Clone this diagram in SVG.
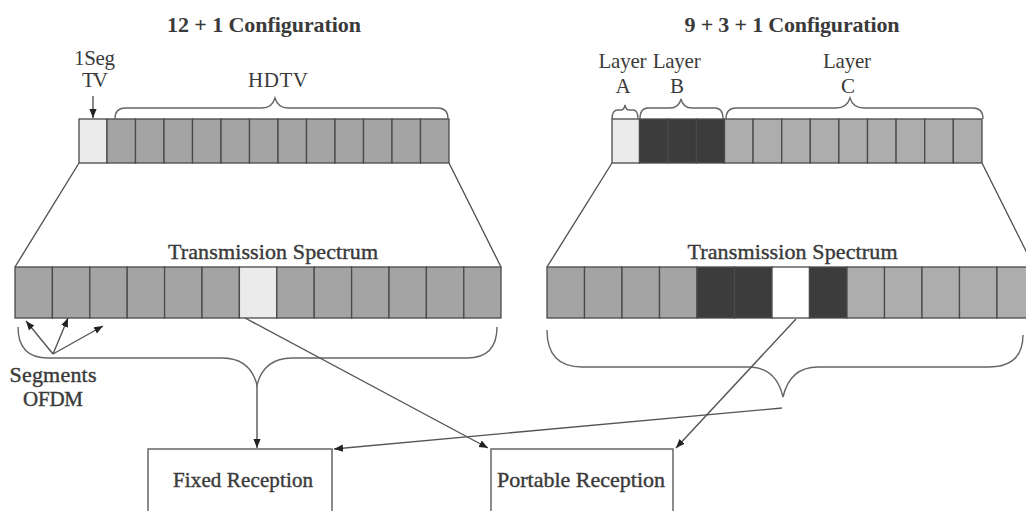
<svg xmlns="http://www.w3.org/2000/svg" width="1026" height="511" viewBox="0 0 1026 511">
<defs>
<style>
.t{font-family:"Liberation Serif","Times New Roman",serif;font-size:21px;fill:#3a3a3a;text-anchor:middle}
.b{font-weight:bold;font-size:22px}
.m{stroke:#3a3a3a;stroke-width:0.4}
.s22{font-size:22px}
.c{stroke:#4a4a4a;stroke-width:1.3}
.g{fill:#a4a4a4}
.g2{fill:#adadad}
.d{fill:#3c3c3c}
.l{fill:#ebebeb}
.w{fill:#ffffff}
.ln{fill:none;stroke:#555;stroke-width:1.4}
.br{fill:none;stroke:#666;stroke-width:1.4}
.bx{fill:#fff;stroke:#666;stroke-width:1.5}
</style>
<marker id="ah" viewBox="0 0 10 10" refX="10" refY="5" markerWidth="9" markerHeight="9" markerUnits="userSpaceOnUse" orient="auto">
<path d="M0,1 L10,5 L0,9 Z" fill="#222"/>
</marker>
</defs>
<rect width="1026" height="511" fill="#fff"/>

<g id="title-12-1"><text class="t b" x="264" y="32" textLength="194">12 + 1 Configuration</text></g>
<g id="title-9-3-1"><text class="t b" x="792" y="32" textLength="215">9 + 3 + 1 Configuration</text></g>

<g id="config-12-1">
<rect class="c l" x="79" y="119" width="28" height="44"/>
<rect class="c g" x="107" y="119" width="28.5" height="44"/>
<rect class="c g" x="135.5" y="119" width="28.5" height="44"/>
<rect class="c g" x="164" y="119" width="28.5" height="44"/>
<rect class="c g" x="192.5" y="119" width="28.5" height="44"/>
<rect class="c g" x="221" y="119" width="28.5" height="44"/>
<rect class="c g" x="249.5" y="119" width="28.5" height="44"/>
<rect class="c g" x="278" y="119" width="28.5" height="44"/>
<rect class="c g" x="306.5" y="119" width="28.5" height="44"/>
<rect class="c g" x="335" y="119" width="28.5" height="44"/>
<rect class="c g" x="363.5" y="119" width="28.5" height="44"/>
<rect class="c g" x="392" y="119" width="28.5" height="44"/>
<rect class="c g" x="420.5" y="119" width="28.5" height="44"/>
</g>

<g id="label-1seg">
<text class="t" x="94.5" y="65" textLength="41">1Seg</text>
<text class="t" x="95" y="87" textLength="26">TV</text>
</g>
<g id="label-hdtv"><text class="t" x="278" y="87" textLength="60">HDTV</text></g>

<g id="config-9-3-1">
<rect class="c l" x="612" y="119" width="27.5" height="44"/>
<rect class="c d" x="639.5" y="119" width="28.5" height="44"/>
<rect class="c d" x="668" y="119" width="28.5" height="44"/>
<rect class="c d" x="696.5" y="119" width="28" height="44"/>
<rect class="c g2" x="724.5" y="119" width="28.6" height="44"/>
<rect class="c g2" x="753.1" y="119" width="28.6" height="44"/>
<rect class="c g2" x="781.7" y="119" width="28.6" height="44"/>
<rect class="c g2" x="810.3" y="119" width="28.6" height="44"/>
<rect class="c g2" x="838.9" y="119" width="28.6" height="44"/>
<rect class="c g2" x="867.5" y="119" width="28.6" height="44"/>
<rect class="c g2" x="896.1" y="119" width="28.6" height="44"/>
<rect class="c g2" x="924.7" y="119" width="28.6" height="44"/>
<rect class="c g2" x="953.3" y="119" width="28.7" height="44"/>
</g>

<g id="label-layer-a">
<text class="t" x="622.5" y="68" textLength="48">Layer</text>
<text class="t" x="623" y="93">A</text>
</g>
<g id="label-layer-b">
<text class="t" x="676.7" y="68" textLength="48">Layer</text>
<text class="t" x="677" y="93">B</text>
</g>
<g id="label-layer-c">
<text class="t" x="847" y="68" textLength="48">Layer</text>
<text class="t" x="848" y="93">C</text>
</g>

<g id="spectrum-left">
<text class="t m s22" x="273" y="259" textLength="210">Transmission Spectrum</text>
<rect class="c g" x="15" y="267" width="37.4" height="51"/>
<rect class="c g" x="52.4" y="267" width="37.4" height="51"/>
<rect class="c g" x="89.8" y="267" width="37.4" height="51"/>
<rect class="c g" x="127.2" y="267" width="37.4" height="51"/>
<rect class="c g" x="164.6" y="267" width="37.4" height="51"/>
<rect class="c g" x="202" y="267" width="37.4" height="51"/>
<rect class="c l" x="239.4" y="267" width="37.4" height="51"/>
<rect class="c g" x="276.8" y="267" width="37.4" height="51"/>
<rect class="c g" x="314.2" y="267" width="37.4" height="51"/>
<rect class="c g" x="351.6" y="267" width="37.4" height="51"/>
<rect class="c g" x="389" y="267" width="37.4" height="51"/>
<rect class="c g" x="426.4" y="267" width="37.4" height="51"/>
<rect class="c g" x="463.8" y="267" width="37.2" height="51"/>
</g>

<g id="spectrum-right">
<text class="t m s22" x="792.5" y="259" textLength="210">Transmission Spectrum</text>
<rect class="c g" x="547" y="267" width="37.5" height="51"/>
<rect class="c g" x="584.5" y="267" width="37.5" height="51"/>
<rect class="c g" x="622" y="267" width="37.5" height="51"/>
<rect class="c g" x="659.5" y="267" width="37.5" height="51"/>
<rect class="c d" x="697" y="267" width="37.5" height="51"/>
<rect class="c d" x="734.5" y="267" width="37.5" height="51"/>
<rect class="c w" x="772" y="267" width="37.5" height="51"/>
<rect class="c d" x="809.5" y="267" width="37.5" height="51"/>
<rect class="c g2" x="847" y="267" width="37.5" height="51"/>
<rect class="c g2" x="884.5" y="267" width="37.5" height="51"/>
<rect class="c g2" x="922" y="267" width="37.5" height="51"/>
<rect class="c g2" x="959.5" y="267" width="37.5" height="51"/>
<rect class="c g2" x="997" y="267" width="37.5" height="51"/>
</g>

<g id="label-segments">
<text class="t m s22" x="53" y="382" textLength="87">Segments</text>
<text class="t m" x="53" y="406" textLength="60">OFDM</text>
</g>

<g id="fixed-reception">
<rect class="bx" x="148" y="449" width="184" height="80"/>
<text class="t m" x="243" y="487" textLength="140">Fixed Reception</text>
</g>
<g id="portable-reception">
<rect class="bx" x="491" y="449" width="182" height="80"/>
<text class="t m s22" x="581" y="487" textLength="168">Portable Reception</text>
</g>

<g id="connectors">
<path class="ln" d="M79,163 L15,267 M449,163 L501,267"/>
<path class="ln" d="M612,163 L547,267 M982,163 L1034,267"/>
<path class="br" d="M115,119 Q115,108 125,108 L262,108 Q272,108 275,98 Q278,108 288,108 L438,108 Q448,108 448,119"/>
<path class="br" d="M612,119 Q612,110 618,110 L621,110 Q624,110 625,105 Q626,110 629,110 L633,110 Q638,110 638,119"/>
<path class="br" d="M640,119 Q640,108 648,108 L670,108 Q679,108 681,99 Q683,108 692,108 L715,108 Q723,108 723,119"/>
<path class="br" d="M726,119 Q726,108 736,108 L836,108 Q847,108 850,98 Q853,108 864,108 L973,108 Q983,108 983,119"/>
<path class="br" d="M18,327 Q18,358 48,358 L222,358 Q250,358 257,385 Q264,358 292,358 L467,358 Q497,358 497,327"/>
<path class="br" d="M547,330 Q547,367 582,367 L748,367 Q776,367 783,397 Q790,367 818,367 L988,367 Q1023,367 1023,335"/>
<path class="ln" d="M53,354 L26,321" marker-end="url(#ah)"/>
<path class="ln" d="M53,354 L68,318" marker-end="url(#ah)"/>
<path class="ln" d="M53,354 L103,326" marker-end="url(#ah)"/>
<path class="ln" d="M93,96 L93,118" marker-end="url(#ah)"/>
<path class="ln" d="M257,385 L257,448" marker-end="url(#ah)"/>
<path class="ln" d="M245,318 L488,448" marker-end="url(#ah)"/>
<path class="ln" d="M782,408 L334,449" marker-end="url(#ah)"/>
<path class="ln" d="M796,319 L676,448" marker-end="url(#ah)"/>
</g>
</svg>
